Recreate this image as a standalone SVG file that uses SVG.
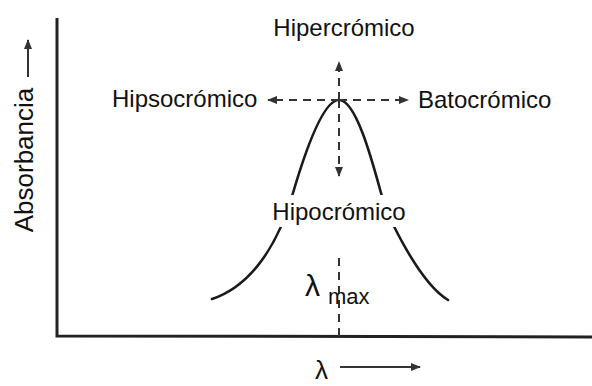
<svg xmlns="http://www.w3.org/2000/svg" width="592" height="386" viewBox="0 0 592 386">
<style>
.t{font-family:"Liberation Sans",Arial,sans-serif;fill:#111;}
.lbl{font-size:24px;}
.ax{stroke:#222;stroke-width:3;fill:none;}
.dash{stroke:#333;stroke-width:2;stroke-dasharray:8 6;fill:none;}
.ar{stroke:#333;stroke-width:2;fill:none;}
.curve{stroke:#1a1a1a;stroke-width:2.6;fill:none;stroke-linecap:round;}
</style>
<defs>
<marker id="ah" viewBox="0 0 10 10" refX="9" refY="5" markerWidth="5" markerHeight="5" orient="auto" markerUnits="strokeWidth">
<path d="M0,1 L10,5 L0,9 z" fill="#333"/>
</marker>
</defs>
<rect width="592" height="386" fill="#fff"/>
<g id="axes">
<path class="ax" d="M57,18 L57,336 L592,337"/>
</g>
<g id="curve">
<path class="curve" d="M212,299 C245,288 275,255 293,193 C303,159 322,100 339,100 C356,100 372,160 381,193 C388,219 420,283 448,300"/>
</g>
<g id="connectors">
<path class="dash" d="M339,100 L339,62" marker-end="url(#ah)"/>
<path class="dash" d="M339,100 L339,176" marker-end="url(#ah)"/>
<path class="dash" d="M339,258 L339,336"/>
<path class="dash" d="M339,100 L268,100" marker-end="url(#ah)"/>
<path class="dash" d="M339,100 L408,100" marker-end="url(#ah)"/>
<path class="ar" d="M28,77 L28,40" marker-end="url(#ah)"/>
<path class="ar" d="M340,367 L420,367" marker-end="url(#ah)"/>
</g>
<g id="hipocromico">
<rect x="266" y="195" width="146" height="32" fill="#fff"/>
<text class="t lbl" x="339" y="220" text-anchor="middle">Hipocrómico</text>
</g>
<g id="hipercromico"><text class="t lbl" x="344" y="36" text-anchor="middle">Hipercrómico</text></g>
<g id="hipsocromico"><text class="t lbl" x="112" y="107">Hipsocrómico</text></g>
<g id="batocromico"><text class="t lbl" x="418" y="108">Batocrómico</text></g>
<g id="absorbancia"><text class="t" font-size="26" x="33" y="160" text-anchor="middle" transform="rotate(-90 33 160)">Absorbancia</text></g>
<g id="lambdamax">
<text class="t" font-size="30" x="305" y="296">λ</text>
<text class="t" font-size="22" x="328" y="304">max</text>
</g>
<g id="lambda"><text class="t" font-size="26" x="315" y="379">λ</text></g>
</svg>
